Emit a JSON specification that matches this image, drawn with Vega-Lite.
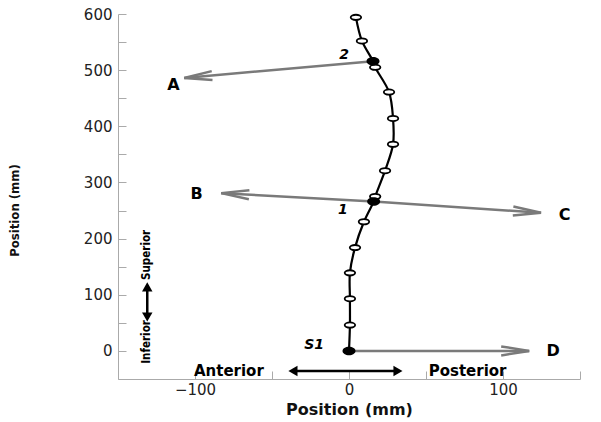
{
  "$schema": "https://vega.github.io/schema/vega-lite/v6.json",
  "width": 462,
  "height": 365,
  "autosize": {"type": "none"},
  "padding": {"left": 118, "top": 14, "right": 21, "bottom": 43},
  "background": "white",
  "config": {
    "view": {"stroke": null},
    "axis": {
      "domainColor": "#aaaaaa",
      "tickColor": "#aaaaaa",
      "grid": false,
      "labelFont": "DejaVu Sans",
      "labelFontSize": 15,
      "labelColor": "#222222",
      "titleColor": "#111111"
    }
  },
  "datasets": {
    "spine": [
      {"x": 0, "y": 0, "kind": "S1"},
      {"x": 0.6, "y": 46, "kind": "open"},
      {"x": 0.6, "y": 93, "kind": "open"},
      {"x": 0.6, "y": 139, "kind": "open"},
      {"x": 3.9, "y": 184, "kind": "open"},
      {"x": 9.7, "y": 230, "kind": "open"},
      {"x": 16, "y": 266, "kind": "marker"},
      {"x": 17, "y": 275, "kind": "open"},
      {"x": 23.4, "y": 321, "kind": "open"},
      {"x": 28.6, "y": 368, "kind": "open"},
      {"x": 28.6, "y": 414, "kind": "open"},
      {"x": 26, "y": 461, "kind": "open"},
      {"x": 17, "y": 505, "kind": "open"},
      {"x": 15.6, "y": 516, "kind": "marker"},
      {"x": 8.4, "y": 552, "kind": "open"},
      {"x": 4.5, "y": 594, "kind": "open"}
    ],
    "vectors": [
      {"vec": "A", "x": 15.6, "y": 516, "x2": -107, "y2": 486},
      {"vec": "B", "x": 16, "y": 266, "x2": -83, "y2": 281},
      {"vec": "C", "x": 16, "y": 266, "x2": 124.7, "y2": 246},
      {"vec": "D", "x": 0, "y": 0, "x2": 117, "y2": 0}
    ],
    "tips": [
      {"vec": "A", "x": -107, "y": 486},
      {"vec": "B", "x": -83, "y": 281},
      {"vec": "C", "x": 124.7, "y": 246},
      {"vec": "D", "x": 117, "y": 0}
    ],
    "vecLabels": [
      {"text": "A", "x": -114, "y": 474},
      {"text": "B", "x": -99, "y": 280},
      {"text": "C", "x": 140, "y": 242},
      {"text": "D", "x": 132.5, "y": 0}
    ],
    "pointLabels": [
      {"text": "2", "x": -3.2, "y": 527},
      {"text": "1", "x": -3.9, "y": 251},
      {"text": "S1", "x": -22.7, "y": 11}
    ],
    "guides": [
      {"x": -37, "y": -35.6, "x2": 32, "y2": -35.6},
      {"x": -131, "y": 58, "x2": -131, "y2": 117}
    ],
    "guideHeads": [
      {"x": -36.4, "y": -35.6, "dir": "left"},
      {"x": 31.8, "y": -35.6, "dir": "right"},
      {"x": -131, "y": 114, "dir": "up"},
      {"x": -131, "y": 60.5, "dir": "down"}
    ],
    "hText": [
      {"text": "Anterior", "x": -78, "y": -35.6},
      {"text": "Posterior", "x": 77, "y": -35.6}
    ],
    "vText": [
      {"text": "Superior", "x": -131, "y": 171},
      {"text": "Inferior", "x": -131, "y": 16}
    ]
  },
  "encoding": {
    "x": {
      "field": "x",
      "type": "quantitative",
      "scale": {"domain": [-150, 150], "nice": false, "zero": false},
      "axis": {
        "title": "Position (mm)",
        "values": [-150, -100, -50, 0, 50, 100, 150],
        "labelExpr": "datum.value % 100 === 0 ? datum.label : ''",
        "labelOverlap": false,
        "tickSize": -8,
        "labelPadding": 11,
        "titleFont": "DejaVu Sans",
        "titleFontWeight": "bold",
        "titleFontSize": 16,
        "titlePadding": 4
      }
    },
    "y": {
      "field": "y",
      "type": "quantitative",
      "scale": {"domain": [-50, 600], "nice": false, "zero": false},
      "axis": {
        "title": "Position (mm)",
        "values": [0, 50, 100, 150, 200, 250, 300, 350, 400, 450, 500, 550, 600],
        "labelExpr": "datum.value % 100 === 0 ? datum.label : ''",
        "labelOverlap": false,
        "tickSize": -8,
        "labelPadding": 14,
        "titleFont": "DejaVu Sans Condensed",
        "titleFontWeight": "bold",
        "titleFontSize": 13,
        "titleX": -97,
        "titleY": 196
      }
    }
  },
  "layer": [
    {
      "data": {"name": "vectors"},
      "mark": {"type": "rule", "color": "#7a7a7a", "strokeWidth": 2.5},
      "encoding": {"x2": {"field": "x2"}, "y2": {"field": "y2"}}
    },
    {
      "data": {"name": "tips"},
      "transform": [{"filter": "datum.vec === 'A'"}],
      "mark": {"type": "point", "shape": "M-2,-0.32L0,0L-2,0.32", "size": 784, "filled": false, "color": "#7a7a7a", "strokeWidth": 2.5, "opacity": 1, "angle": 175},
      "encoding": {}
    },
    {
      "data": {"name": "tips"},
      "transform": [{"filter": "datum.vec === 'B'"}],
      "mark": {"type": "point", "shape": "M-2,-0.32L0,0L-2,0.32", "size": 784, "filled": false, "color": "#7a7a7a", "strokeWidth": 2.5, "opacity": 1, "angle": 183.4},
      "encoding": {}
    },
    {
      "data": {"name": "tips"},
      "transform": [{"filter": "datum.vec === 'C'"}],
      "mark": {"type": "point", "shape": "M-2,-0.32L0,0L-2,0.32", "size": 784, "filled": false, "color": "#7a7a7a", "strokeWidth": 2.5, "opacity": 1, "angle": 3.7},
      "encoding": {}
    },
    {
      "data": {"name": "tips"},
      "transform": [{"filter": "datum.vec === 'D'"}],
      "mark": {"type": "point", "shape": "M-2,-0.32L0,0L-2,0.32", "size": 784, "filled": false, "color": "#7a7a7a", "strokeWidth": 2.5, "opacity": 1, "angle": 0},
      "encoding": {}
    },
    {
      "data": {"name": "spine"},
      "mark": {"type": "line", "color": "black", "strokeWidth": 2.2, "interpolate": "catmull-rom"},
      "encoding": {"order": {"field": "y", "type": "quantitative"}}
    },
    {
      "data": {"name": "spine"},
      "transform": [{"filter": "datum.kind === 'open'"}],
      "mark": {"type": "point", "shape": "M-1,0C-1,-0.28 -0.55,-0.5 0,-0.5C0.55,-0.5 1,-0.28 1,0C1,0.28 0.55,0.5 0,0.5C-0.55,0.5 -1,0.28 -1,0Z", "size": 110, "filled": true, "fill": "white", "stroke": "black", "strokeWidth": 1.8, "opacity": 1},
      "encoding": {}
    },
    {
      "data": {"name": "spine"},
      "transform": [{"filter": "datum.kind !== 'open'"}],
      "mark": {"type": "point", "shape": "M-1,0C-1,-0.36 -0.55,-0.65 0,-0.65C0.55,-0.65 1,-0.36 1,0C1,0.36 0.55,0.65 0,0.65C-0.55,0.65 -1,0.36 -1,0Z", "size": 170, "filled": true, "color": "black", "opacity": 1},
      "encoding": {}
    },
    {
      "data": {"name": "vecLabels"},
      "mark": {"type": "text", "font": "DejaVu Sans", "fontWeight": "bold", "fontSize": 16, "color": "black", "align": "center", "baseline": "middle"},
      "encoding": {"text": {"field": "text"}}
    },
    {
      "data": {"name": "pointLabels"},
      "mark": {"type": "text", "font": "DejaVu Sans", "fontWeight": "bold", "fontStyle": "italic", "fontSize": 14, "color": "black", "align": "center", "baseline": "middle"},
      "encoding": {"text": {"field": "text"}}
    },
    {
      "data": {"name": "guides"},
      "mark": {"type": "rule", "color": "black", "strokeWidth": 2.5},
      "encoding": {"x2": {"field": "x2"}, "y2": {"field": "y2"}}
    },
    {
      "data": {"name": "guideHeads"},
      "mark": {"type": "point", "filled": true, "color": "black", "size": 110, "opacity": 1},
      "encoding": {
        "shape": {
          "field": "dir",
          "type": "nominal",
          "scale": {"domain": ["left", "right", "up", "down"], "range": ["triangle-left", "triangle-right", "triangle-up", "triangle-down"]},
          "legend": null
        }
      }
    },
    {
      "data": {"name": "hText"},
      "mark": {"type": "text", "font": "DejaVu Sans", "fontWeight": "bold", "fontSize": 15, "color": "black", "align": "center", "baseline": "middle"},
      "encoding": {"text": {"field": "text"}}
    },
    {
      "data": {"name": "vText"},
      "mark": {"type": "text", "font": "DejaVu Sans Condensed", "fontWeight": "bold", "fontSize": 11.5, "color": "black", "align": "center", "baseline": "middle", "angle": 270},
      "encoding": {"text": {"field": "text"}}
    }
  ]
}
